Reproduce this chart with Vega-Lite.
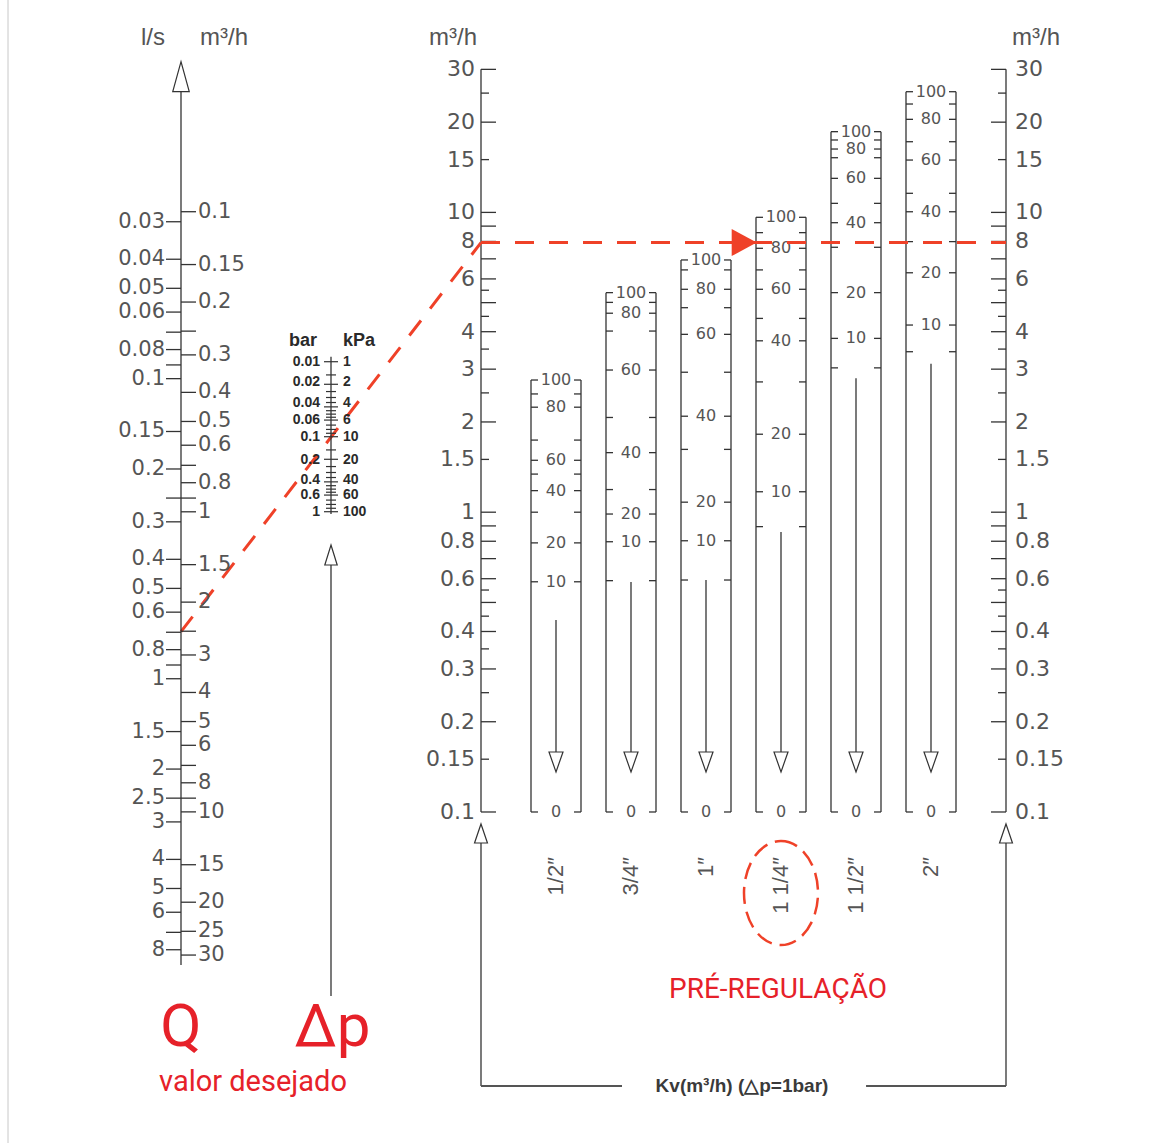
{
"$schema":"https://vega.github.io/schema/vega-lite/v6.json",
"width":1157,"height":1143,
"autosize":{"type":"none"},"padding":0,"background":"#ffffff",
"config":{"view":{"stroke":null}},
"datasets":{
"one":[{"n":1}],
"kvRange":[{"lo":0.1,"hi":30}],
"kvTicks":[
{"kv":30,"major":true,"lab":"30"},{"kv":25,"major":false,"lab":""},{"kv":20,"major":true,"lab":"20"},{"kv":15,"major":false,"lab":"15"},
{"kv":10,"major":true,"lab":"10"},{"kv":9,"major":true,"lab":""},{"kv":8,"major":true,"lab":"8"},{"kv":7,"major":true,"lab":""},
{"kv":6,"major":true,"lab":"6"},{"kv":5.5,"major":false,"lab":""},{"kv":5,"major":true,"lab":""},{"kv":4.5,"major":false,"lab":""},
{"kv":4,"major":true,"lab":"4"},{"kv":3.5,"major":false,"lab":""},{"kv":3,"major":true,"lab":"3"},{"kv":2.5,"major":false,"lab":""},
{"kv":2,"major":true,"lab":"2"},{"kv":1.5,"major":false,"lab":"1.5"},{"kv":1,"major":true,"lab":"1"},{"kv":0.9,"major":true,"lab":""},
{"kv":0.8,"major":true,"lab":"0.8"},{"kv":0.7,"major":true,"lab":""},{"kv":0.6,"major":true,"lab":"0.6"},{"kv":0.55,"major":false,"lab":""},
{"kv":0.5,"major":true,"lab":""},{"kv":0.45,"major":false,"lab":""},{"kv":0.4,"major":true,"lab":"0.4"},{"kv":0.35,"major":false,"lab":""},
{"kv":0.3,"major":true,"lab":"0.3"},{"kv":0.25,"major":false,"lab":""},{"kv":0.2,"major":true,"lab":"0.2"},{"kv":0.15,"major":false,"lab":"0.15"},
{"kv":0.1,"major":true,"lab":"0.1"}],
"qTicks":[
{"q":0.1,"lab":"0.1"},{"q":0.15,"lab":"0.15"},{"q":0.2,"lab":"0.2"},{"q":0.25,"lab":""},{"q":0.3,"lab":"0.3"},{"q":0.4,"lab":"0.4"},
{"q":0.5,"lab":"0.5"},{"q":0.6,"lab":"0.6"},{"q":0.7,"lab":""},{"q":0.8,"lab":"0.8"},{"q":0.9,"lab":""},{"q":1,"lab":"1"},
{"q":1.5,"lab":"1.5"},{"q":2,"lab":"2"},{"q":2.5,"lab":""},{"q":3,"lab":"3"},{"q":4,"lab":"4"},{"q":5,"lab":"5"},{"q":6,"lab":"6"},
{"q":7,"lab":""},{"q":8,"lab":"8"},{"q":9,"lab":""},{"q":10,"lab":"10"},{"q":15,"lab":"15"},{"q":20,"lab":"20"},{"q":25,"lab":"25"},{"q":30,"lab":"30"}],
"lsTicks":[
{"ls":0.03,"lab":"0.03"},{"ls":0.04,"lab":"0.04"},{"ls":0.05,"lab":"0.05"},{"ls":0.06,"lab":"0.06"},{"ls":0.07,"lab":""},{"ls":0.08,"lab":"0.08"},
{"ls":0.09,"lab":""},{"ls":0.1,"lab":"0.1"},{"ls":0.15,"lab":"0.15"},{"ls":0.2,"lab":"0.2"},{"ls":0.25,"lab":""},{"ls":0.3,"lab":"0.3"},
{"ls":0.4,"lab":"0.4"},{"ls":0.5,"lab":"0.5"},{"ls":0.6,"lab":"0.6"},{"ls":0.7,"lab":""},{"ls":0.8,"lab":"0.8"},{"ls":0.9,"lab":""},
{"ls":1,"lab":"1"},{"ls":1.5,"lab":"1.5"},{"ls":2,"lab":"2"},{"ls":2.5,"lab":"2.5"},{"ls":3,"lab":"3"},{"ls":4,"lab":"4"},{"ls":5,"lab":"5"},
{"ls":6,"lab":"6"},{"ls":7,"lab":""},{"ls":8,"lab":"8"}],
"dpTicks":[
{"kpa":1,"bar":"0.01","lab":"1","lpos":1},{"kpa":1.5,"bar":"","lab":""},{"kpa":2,"bar":"0.02","lab":"2","lpos":1.88},{"kpa":2.5,"bar":"","lab":""},
{"kpa":3,"bar":"","lab":""},{"kpa":3.5,"bar":"","lab":""},{"kpa":4,"bar":"0.04","lab":"4","lpos":3.52},{"kpa":4.5,"bar":"","lab":""},
{"kpa":5,"bar":"","lab":""},{"kpa":5.5,"bar":"","lab":""},{"kpa":6,"bar":"0.06","lab":"6","lpos":5.99},{"kpa":7,"bar":"","lab":""},
{"kpa":8,"bar":"","lab":""},{"kpa":9,"bar":"","lab":""},{"kpa":10,"bar":"0.1","lab":"10","lpos":10},{"kpa":15,"bar":"","lab":""},
{"kpa":20,"bar":"0.2","lab":"20","lpos":20.4},{"kpa":25,"bar":"","lab":""},{"kpa":30,"bar":"","lab":""},{"kpa":35,"bar":"","lab":""},
{"kpa":40,"bar":"0.4","lab":"40","lpos":37.9},{"kpa":45,"bar":"","lab":""},{"kpa":50,"bar":"","lab":""},{"kpa":55,"bar":"","lab":""},
{"kpa":60,"bar":"0.6","lab":"60","lpos":59.7},{"kpa":70,"bar":"","lab":""},{"kpa":80,"bar":"","lab":""},{"kpa":90,"bar":"","lab":""},
{"kpa":100,"bar":"1","lab":"100","lpos":100}],
"cols":[
{"col":"1/2″","u":2.5,"top":2.76,"at":0.437},
{"col":"3/4″","u":3,"top":5.4,"at":0.585},
{"col":"1″","u":3.5,"top":6.94,"at":0.594},
{"col":"1 1/4″","u":4,"top":9.63,"at":0.859},
{"col":"1 1/2″","u":4.5,"top":18.59,"at":2.8},
{"col":"2″","u":5,"top":25.27,"at":3.13}],
"colTicks":[
{"col":"1/2″","s":100,"kv":2.76,"lab":"100"},{"col":"1/2″","s":90,"kv":2.48,"lab":""},{"col":"1/2″","s":80,"kv":2.24,"lab":"80"},
{"col":"1/2″","s":70,"kv":1.74,"lab":""},{"col":"1/2″","s":60,"kv":1.49,"lab":"60"},{"col":"1/2″","s":50,"kv":1.34,"lab":""},
{"col":"1/2″","s":40,"kv":1.18,"lab":"40"},{"col":"1/2″","s":30,"kv":1.0,"lab":""},{"col":"1/2″","s":20,"kv":0.79,"lab":"20"},
{"col":"1/2″","s":10,"kv":0.586,"lab":"10"},{"col":"1/2″","s":0,"kv":0.1,"lab":"0"},
{"col":"3/4″","s":100,"kv":5.4,"lab":"100"},{"col":"3/4″","s":90,"kv":5.01,"lab":""},{"col":"3/4″","s":80,"kv":4.61,"lab":"80"},
{"col":"3/4″","s":70,"kv":4.02,"lab":""},{"col":"3/4″","s":60,"kv":2.98,"lab":"60"},{"col":"3/4″","s":50,"kv":2.07,"lab":""},
{"col":"3/4″","s":40,"kv":1.58,"lab":"40"},{"col":"3/4″","s":30,"kv":1.19,"lab":""},{"col":"3/4″","s":20,"kv":0.986,"lab":"20"},
{"col":"3/4″","s":10,"kv":0.797,"lab":"10"},{"col":"3/4″","s":5,"kv":0.591,"lab":""},{"col":"3/4″","s":0,"kv":0.1,"lab":"0"},
{"col":"1″","s":100,"kv":6.94,"lab":"100"},{"col":"1″","s":90,"kv":6.43,"lab":""},{"col":"1″","s":80,"kv":5.54,"lab":"80"},
{"col":"1″","s":70,"kv":4.81,"lab":""},{"col":"1″","s":60,"kv":3.92,"lab":"60"},{"col":"1″","s":50,"kv":2.93,"lab":""},
{"col":"1″","s":40,"kv":2.09,"lab":"40"},{"col":"1″","s":30,"kv":1.62,"lab":""},{"col":"1″","s":20,"kv":1.08,"lab":"20"},
{"col":"1″","s":10,"kv":0.803,"lab":"10"},{"col":"1″","s":5,"kv":0.594,"lab":""},{"col":"1″","s":0,"kv":0.1,"lab":"0"},
{"col":"1 1/4″","s":100,"kv":9.63,"lab":"100"},{"col":"1 1/4″","s":90,"kv":8.56,"lab":""},{"col":"1 1/4″","s":80,"kv":7.59,"lab":"80"},
{"col":"1 1/4″","s":70,"kv":6.43,"lab":""},{"col":"1 1/4″","s":60,"kv":5.54,"lab":"60"},{"col":"1 1/4″","s":50,"kv":4.43,"lab":""},
{"col":"1 1/4″","s":40,"kv":3.73,"lab":"40"},{"col":"1 1/4″","s":30,"kv":2.72,"lab":""},{"col":"1 1/4″","s":20,"kv":1.82,"lab":"20"},
{"col":"1 1/4″","s":10,"kv":1.17,"lab":"10"},{"col":"1 1/4″","s":5,"kv":0.895,"lab":""},{"col":"1 1/4″","s":0,"kv":0.1,"lab":"0"},
{"col":"1 1/2″","s":100,"kv":18.59,"lab":"100"},{"col":"1 1/2″","s":90,"kv":17.44,"lab":""},{"col":"1 1/2″","s":80,"kv":16.27,"lab":"80"},
{"col":"1 1/2″","s":70,"kv":15.22,"lab":""},{"col":"1 1/2″","s":60,"kv":12.99,"lab":"60"},{"col":"1 1/2″","s":50,"kv":10.72,"lab":""},
{"col":"1 1/2″","s":40,"kv":9.24,"lab":"40"},{"col":"1 1/2″","s":30,"kv":7.65,"lab":""},{"col":"1 1/2″","s":20,"kv":5.4,"lab":"20"},
{"col":"1 1/2″","s":10,"kv":3.8,"lab":"10"},{"col":"1 1/2″","s":5,"kv":3.03,"lab":""},{"col":"1 1/2″","s":0,"kv":0.1,"lab":"0"},
{"col":"2″","s":100,"kv":25.27,"lab":"100"},{"col":"2″","s":90,"kv":22.99,"lab":""},{"col":"2″","s":80,"kv":20.44,"lab":"80"},
{"col":"2″","s":70,"kv":17.21,"lab":""},{"col":"2″","s":60,"kv":14.95,"lab":"60"},{"col":"2″","s":50,"kv":11.58,"lab":""},
{"col":"2″","s":40,"kv":10.05,"lab":"40"},{"col":"2″","s":30,"kv":7.99,"lab":""},{"col":"2″","s":20,"kv":6.29,"lab":"20"},
{"col":"2″","s":10,"kv":4.21,"lab":"10"},{"col":"2″","s":5,"kv":3.43,"lab":""},{"col":"2″","s":0,"kv":0.1,"lab":"0"}],
"example":[{"Q":2.5,"dp":10,"kv":7.93,"kvAtQ":0.3994}]
},
"resolve":{"scale":{"y":"independent"}},
"layer":[
{"layer":[
{"data":{"name":"one"},"mark":{"type":"rule","color":"#c8c8c8","strokeWidth":1},"encoding":{"x":{"datum":-1.1533,"type":"quantitative","scale":{"domain":[-1.20667,6.50667],"nice":false,"zero":false},"axis":null},"y":{"datum":0.007868,"type":"quantitative","scale":{"type":"log","domain":[0.007868,51.11],"nice":false,"zero":false},"axis":null},"y2":{"datum":51.11}}},
{"data":{"name":"kvRange"},"mark":{"type":"rule","color":"#333333","strokeWidth":1.3},"encoding":{"x":{"datum":2,"type":"quantitative","scale":{"domain":[-1.20667,6.50667],"nice":false,"zero":false},"axis":null},"y":{"field":"lo","type":"quantitative","scale":{"type":"log","domain":[0.007868,51.11],"nice":false,"zero":false},"axis":null},"y2":{"field":"hi"}}},
{"data":{"name":"kvRange"},"mark":{"type":"rule","color":"#333333","strokeWidth":1.3},"encoding":{"x":{"datum":5.5,"type":"quantitative","scale":{"domain":[-1.20667,6.50667],"nice":false,"zero":false},"axis":null},"y":{"field":"lo","type":"quantitative","scale":{"type":"log","domain":[0.007868,51.11],"nice":false,"zero":false},"axis":null},"y2":{"field":"hi"}}},
{"data":{"name":"kvTicks"},"transform":[{"filter":"datum.major"}],"mark":{"type":"tick","orient":"horizontal","size":15,"thickness":1.3,"xOffset":7.5,"color":"#333333","opacity":1},"encoding":{"x":{"datum":2,"type":"quantitative","scale":{"domain":[-1.20667,6.50667],"nice":false,"zero":false},"axis":null},"y":{"field":"kv","type":"quantitative","scale":{"type":"log","domain":[0.007868,51.11],"nice":false,"zero":false},"axis":null}}},
{"data":{"name":"kvTicks"},"transform":[{"filter":"!datum.major"}],"mark":{"type":"tick","orient":"horizontal","size":8,"thickness":1.3,"xOffset":4,"color":"#333333","opacity":1},"encoding":{"x":{"datum":2,"type":"quantitative","scale":{"domain":[-1.20667,6.50667],"nice":false,"zero":false},"axis":null},"y":{"field":"kv","type":"quantitative","scale":{"type":"log","domain":[0.007868,51.11],"nice":false,"zero":false},"axis":null}}},
{"data":{"name":"kvTicks"},"transform":[{"filter":"datum.major"}],"mark":{"type":"tick","orient":"horizontal","size":15,"thickness":1.3,"xOffset":-7.5,"color":"#333333","opacity":1},"encoding":{"x":{"datum":5.5,"type":"quantitative","scale":{"domain":[-1.20667,6.50667],"nice":false,"zero":false},"axis":null},"y":{"field":"kv","type":"quantitative","scale":{"type":"log","domain":[0.007868,51.11],"nice":false,"zero":false},"axis":null}}},
{"data":{"name":"kvTicks"},"transform":[{"filter":"!datum.major"}],"mark":{"type":"tick","orient":"horizontal","size":8,"thickness":1.3,"xOffset":-4,"color":"#333333","opacity":1},"encoding":{"x":{"datum":5.5,"type":"quantitative","scale":{"domain":[-1.20667,6.50667],"nice":false,"zero":false},"axis":null},"y":{"field":"kv","type":"quantitative","scale":{"type":"log","domain":[0.007868,51.11],"nice":false,"zero":false},"axis":null}}},
{"data":{"name":"kvTicks"},"transform":[{"filter":"datum.lab != ''"}],"mark":{"type":"text","font":"DejaVu Sans","fontSize":22,"fill":"#555555","baseline":"middle","align":"right","dx":-6},"encoding":{"x":{"datum":2,"type":"quantitative","scale":{"domain":[-1.20667,6.50667],"nice":false,"zero":false},"axis":null},"y":{"field":"kv","type":"quantitative","scale":{"type":"log","domain":[0.007868,51.11],"nice":false,"zero":false},"axis":null},"text":{"field":"lab"}}},
{"data":{"name":"kvTicks"},"transform":[{"filter":"datum.lab != ''"}],"mark":{"type":"text","font":"DejaVu Sans","fontSize":22,"fill":"#555555","baseline":"middle","align":"left","dx":9},"encoding":{"x":{"datum":5.5,"type":"quantitative","scale":{"domain":[-1.20667,6.50667],"nice":false,"zero":false},"axis":null},"y":{"field":"kv","type":"quantitative","scale":{"type":"log","domain":[0.007868,51.11],"nice":false,"zero":false},"axis":null},"text":{"field":"lab"}}},
{"data":{"name":"cols"},"mark":{"type":"rule","color":"#333333","strokeWidth":1.3,"xOffset":-25},"encoding":{"x":{"field":"u","type":"quantitative","scale":{"domain":[-1.20667,6.50667],"nice":false,"zero":false},"axis":null},"y":{"field":"top","type":"quantitative","scale":{"type":"log","domain":[0.007868,51.11],"nice":false,"zero":false},"axis":null},"y2":{"datum":0.1}}},
{"data":{"name":"cols"},"mark":{"type":"rule","color":"#333333","strokeWidth":1.3,"xOffset":25},"encoding":{"x":{"field":"u","type":"quantitative","scale":{"domain":[-1.20667,6.50667],"nice":false,"zero":false},"axis":null},"y":{"field":"top","type":"quantitative","scale":{"type":"log","domain":[0.007868,51.11],"nice":false,"zero":false},"axis":null},"y2":{"datum":0.1}}},
{"data":{"name":"colTicks"},"transform":[{"lookup":"col","from":{"data":{"name":"cols"},"key":"col","fields":["u"]}}],"mark":{"type":"tick","orient":"horizontal","size":7,"thickness":1.3,"xOffset":-21.5,"color":"#333333","opacity":1},"encoding":{"x":{"field":"u","type":"quantitative","scale":{"domain":[-1.20667,6.50667],"nice":false,"zero":false},"axis":null},"y":{"field":"kv","type":"quantitative","scale":{"type":"log","domain":[0.007868,51.11],"nice":false,"zero":false},"axis":null}}},
{"data":{"name":"colTicks"},"transform":[{"lookup":"col","from":{"data":{"name":"cols"},"key":"col","fields":["u"]}}],"mark":{"type":"tick","orient":"horizontal","size":7,"thickness":1.3,"xOffset":21.5,"color":"#333333","opacity":1},"encoding":{"x":{"field":"u","type":"quantitative","scale":{"domain":[-1.20667,6.50667],"nice":false,"zero":false},"axis":null},"y":{"field":"kv","type":"quantitative","scale":{"type":"log","domain":[0.007868,51.11],"nice":false,"zero":false},"axis":null}}},
{"data":{"name":"colTicks"},"transform":[{"lookup":"col","from":{"data":{"name":"cols"},"key":"col","fields":["u"]}},{"filter":"datum.lab != ''"}],"mark":{"type":"text","font":"DejaVu Sans","fontSize":16,"fill":"#555555","baseline":"middle","align":"center"},"encoding":{"x":{"field":"u","type":"quantitative","scale":{"domain":[-1.20667,6.50667],"nice":false,"zero":false},"axis":null},"y":{"field":"kv","type":"quantitative","scale":{"type":"log","domain":[0.007868,51.11],"nice":false,"zero":false},"axis":null},"text":{"field":"lab"}}},
{"data":{"name":"cols"},"mark":{"type":"rule","color":"#333333","strokeWidth":1.3},"encoding":{"x":{"field":"u","type":"quantitative","scale":{"domain":[-1.20667,6.50667],"nice":false,"zero":false},"axis":null},"y":{"field":"at","type":"quantitative","scale":{"type":"log","domain":[0.007868,51.11],"nice":false,"zero":false},"axis":null},"y2":{"datum":0.15852}}},
{"data":{"name":"cols"},"mark":{"type":"point","shape":"M0,1L0.7,-1L-0.7,-1Z","size":400,"filled":true,"fill":"#ffffff","stroke":"#333333","strokeWidth":1.2,"opacity":1},"encoding":{"x":{"field":"u","type":"quantitative","scale":{"domain":[-1.20667,6.50667],"nice":false,"zero":false},"axis":null},"y":{"datum":0.14682,"type":"quantitative","scale":{"type":"log","domain":[0.007868,51.11],"nice":false,"zero":false},"axis":null}}},
{"data":{"name":"cols"},"mark":{"type":"text","font":"Liberation Sans","fontSize":22,"fill":"#555555","angle":270,"align":"right","baseline":"middle"},"encoding":{"x":{"field":"u","type":"quantitative","scale":{"domain":[-1.20667,6.50667],"nice":false,"zero":false},"axis":null},"y":{"datum":0.07076,"type":"quantitative","scale":{"type":"log","domain":[0.007868,51.11],"nice":false,"zero":false},"axis":null},"text":{"field":"col"}}},
{"data":{"name":"one"},"mark":{"type":"point","shape":"M0,-1L0.68,1L-0.68,1Z","size":361,"filled":true,"fill":"#ffffff","stroke":"#333333","strokeWidth":1.2,"opacity":1},"encoding":{"x":{"datum":2,"type":"quantitative","scale":{"domain":[-1.20667,6.50667],"nice":false,"zero":false},"axis":null},"y":{"datum":0.084785,"type":"quantitative","scale":{"type":"log","domain":[0.007868,51.11],"nice":false,"zero":false},"axis":null}}},
{"data":{"name":"one"},"mark":{"type":"point","shape":"M0,-1L0.68,1L-0.68,1Z","size":361,"filled":true,"fill":"#ffffff","stroke":"#333333","strokeWidth":1.2,"opacity":1},"encoding":{"x":{"datum":5.5,"type":"quantitative","scale":{"domain":[-1.20667,6.50667],"nice":false,"zero":false},"axis":null},"y":{"datum":0.084785,"type":"quantitative","scale":{"type":"log","domain":[0.007868,51.11],"nice":false,"zero":false},"axis":null}}},
{"data":{"name":"one"},"mark":{"type":"rule","color":"#333333","strokeWidth":1.3},"encoding":{"x":{"datum":2,"type":"quantitative","scale":{"domain":[-1.20667,6.50667],"nice":false,"zero":false},"axis":null},"y":{"datum":0.078782,"type":"quantitative","scale":{"type":"log","domain":[0.007868,51.11],"nice":false,"zero":false},"axis":null},"y2":{"datum":0.012191}}},
{"data":{"name":"one"},"mark":{"type":"rule","color":"#333333","strokeWidth":1.3},"encoding":{"x":{"datum":5.5,"type":"quantitative","scale":{"domain":[-1.20667,6.50667],"nice":false,"zero":false},"axis":null},"y":{"datum":0.078782,"type":"quantitative","scale":{"type":"log","domain":[0.007868,51.11],"nice":false,"zero":false},"axis":null},"y2":{"datum":0.012191}}},
{"data":{"name":"one"},"mark":{"type":"rule","color":"#555555","strokeWidth":2},"encoding":{"x":{"datum":2,"type":"quantitative","scale":{"domain":[-1.20667,6.50667],"nice":false,"zero":false},"axis":null},"x2":{"datum":2.94},"y":{"datum":0.012191,"type":"quantitative","scale":{"type":"log","domain":[0.007868,51.11],"nice":false,"zero":false},"axis":null}}},
{"data":{"name":"one"},"mark":{"type":"rule","color":"#555555","strokeWidth":2},"encoding":{"x":{"datum":4.567,"type":"quantitative","scale":{"domain":[-1.20667,6.50667],"nice":false,"zero":false},"axis":null},"x2":{"datum":5.5},"y":{"datum":0.012191,"type":"quantitative","scale":{"type":"log","domain":[0.007868,51.11],"nice":false,"zero":false},"axis":null}}},
{"data":{"values":[{"t":"Kv(m³/h)  (△p=1bar)"}]},"mark":{"type":"text","font":"Liberation Sans","fontSize":19,"fontWeight":"bold","fill":"#3a3a3a","baseline":"middle","align":"center"},"encoding":{"x":{"datum":3.74,"type":"quantitative","scale":{"domain":[-1.20667,6.50667],"nice":false,"zero":false},"axis":null},"y":{"datum":0.012191,"type":"quantitative","scale":{"type":"log","domain":[0.007868,51.11],"nice":false,"zero":false},"axis":null},"text":{"field":"t"}}},
{"data":{"name":"one"},"mark":{"type":"rule","color":"#333333","strokeWidth":1.3},"encoding":{"x":{"datum":1,"type":"quantitative","scale":{"domain":[-1.20667,6.50667],"nice":false,"zero":false},"axis":null},"y":{"datum":0.66649,"type":"quantitative","scale":{"type":"log","domain":[0.007868,51.11],"nice":false,"zero":false},"axis":null},"y2":{"datum":0.024333}}},
{"data":{"name":"one"},"mark":{"type":"point","shape":"M0,-1L0.62,1L-0.62,1Z","size":400,"filled":true,"fill":"#ffffff","stroke":"#333333","strokeWidth":1.2,"opacity":1},"encoding":{"x":{"datum":1,"type":"quantitative","scale":{"domain":[-1.20667,6.50667],"nice":false,"zero":false},"axis":null},"y":{"datum":0.71982,"type":"quantitative","scale":{"type":"log","domain":[0.007868,51.11],"nice":false,"zero":false},"axis":null}}},
{"data":{"name":"example"},"mark":{"type":"rule","color":"#ef4128","strokeWidth":3,"strokeDash":[19,15]},"encoding":{"x":{"datum":0,"type":"quantitative","scale":{"domain":[-1.20667,6.50667],"nice":false,"zero":false},"axis":null},"x2":{"datum":2},"y":{"field":"kvAtQ","type":"quantitative","scale":{"type":"log","domain":[0.007868,51.11],"nice":false,"zero":false},"axis":null},"y2":{"field":"kv"}}},
{"data":{"name":"example"},"mark":{"type":"rule","color":"#ef4128","strokeWidth":3,"strokeDash":[19,15]},"encoding":{"x":{"datum":2,"type":"quantitative","scale":{"domain":[-1.20667,6.50667],"nice":false,"zero":false},"axis":null},"x2":{"datum":5.5},"y":{"field":"kv","type":"quantitative","scale":{"type":"log","domain":[0.007868,51.11],"nice":false,"zero":false},"axis":null}}},
{"data":{"name":"example"},"mark":{"type":"point","shape":"M1,0L-1,-1.08L-1,1.08Z","size":625,"filled":true,"fill":"#ef4128","strokeWidth":0,"opacity":1},"encoding":{"x":{"datum":3.7547,"type":"quantitative","scale":{"domain":[-1.20667,6.50667],"nice":false,"zero":false},"axis":null},"y":{"field":"kv","type":"quantitative","scale":{"type":"log","domain":[0.007868,51.11],"nice":false,"zero":false},"axis":null}}},
{"data":{"name":"one"},"mark":{"type":"point","shape":"M0,-1C0.393,-1,0.7115,-0.5523,0.7115,0C0.7115,0.5523,0.393,1,0,1C-0.393,1,-0.7115,0.5523,-0.7115,0C-0.7115,-0.5523,-0.393,-1,0,-1Z","size":10816,"filled":false,"color":"#ef4128","strokeWidth":2.5,"strokeDash":[17,8],"opacity":1},"encoding":{"x":{"datum":4.0,"type":"quantitative","scale":{"domain":[-1.20667,6.50667],"nice":false,"zero":false},"axis":null},"y":{"datum":0.053666,"type":"quantitative","scale":{"type":"log","domain":[0.007868,51.11],"nice":false,"zero":false},"axis":null}}},
{"data":{"values":[{"t":"Q"}]},"mark":{"type":"text","font":"Roboto","fontSize":60,"fill":"#e62129","baseline":"alphabetic","align":"center"},"encoding":{"x":{"datum":0,"type":"quantitative","scale":{"domain":[-1.20667,6.50667],"nice":false,"zero":false},"axis":null},"y":{"datum":0.016574,"type":"quantitative","scale":{"type":"log","domain":[0.007868,51.11],"nice":false,"zero":false},"axis":null},"text":{"field":"t"}}},
{"data":{"values":[{"t":"Δp"}]},"mark":{"type":"text","font":"Roboto","fontSize":60,"fill":"#e62129","baseline":"alphabetic","align":"center"},"encoding":{"x":{"datum":1.01,"type":"quantitative","scale":{"domain":[-1.20667,6.50667],"nice":false,"zero":false},"axis":null},"y":{"datum":0.016574,"type":"quantitative","scale":{"type":"log","domain":[0.007868,51.11],"nice":false,"zero":false},"axis":null},"text":{"field":"t"}}},
{"data":{"values":[{"t":"valor desejado"}]},"mark":{"type":"text","font":"Roboto","fontSize":29,"fill":"#e62129","baseline":"alphabetic","align":"center"},"encoding":{"x":{"datum":0.48,"type":"quantitative","scale":{"domain":[-1.20667,6.50667],"nice":false,"zero":false},"axis":null},"y":{"datum":0.011731,"type":"quantitative","scale":{"type":"log","domain":[0.007868,51.11],"nice":false,"zero":false},"axis":null},"text":{"field":"t"}}},
{"data":{"values":[{"t":"PRÉ-REGULAÇÃO"}]},"mark":{"type":"text","font":"Roboto","fontSize":28,"fill":"#e62129","baseline":"alphabetic","align":"center"},"encoding":{"x":{"datum":3.98,"type":"quantitative","scale":{"domain":[-1.20667,6.50667],"nice":false,"zero":false},"axis":null},"y":{"datum":0.023962,"type":"quantitative","scale":{"type":"log","domain":[0.007868,51.11],"nice":false,"zero":false},"axis":null},"text":{"field":"t"}}},
{"data":{"values":[{"t":"l/s"}]},"mark":{"type":"text","font":"Liberation Sans","fontSize":24,"fill":"#555555","baseline":"middle","align":"right","dx":-16},"encoding":{"x":{"datum":0,"type":"quantitative","scale":{"domain":[-1.20667,6.50667],"nice":false,"zero":false},"axis":null},"y":{"datum":38.17,"type":"quantitative","scale":{"type":"log","domain":[0.007868,51.11],"nice":false,"zero":false},"axis":null},"text":{"field":"t"}}},
{"data":{"values":[{"t":"m³/h"}]},"mark":{"type":"text","font":"Liberation Sans","fontSize":24,"fill":"#555555","baseline":"middle","align":"left","dx":19},"encoding":{"x":{"datum":0,"type":"quantitative","scale":{"domain":[-1.20667,6.50667],"nice":false,"zero":false},"axis":null},"y":{"datum":38.17,"type":"quantitative","scale":{"type":"log","domain":[0.007868,51.11],"nice":false,"zero":false},"axis":null},"text":{"field":"t"}}},
{"data":{"values":[{"t":"m³/h"}]},"mark":{"type":"text","font":"Liberation Sans","fontSize":24,"fill":"#555555","baseline":"middle","align":"right","dx":-4},"encoding":{"x":{"datum":2,"type":"quantitative","scale":{"domain":[-1.20667,6.50667],"nice":false,"zero":false},"axis":null},"y":{"datum":38.17,"type":"quantitative","scale":{"type":"log","domain":[0.007868,51.11],"nice":false,"zero":false},"axis":null},"text":{"field":"t"}}},
{"data":{"values":[{"t":"m³/h"}]},"mark":{"type":"text","font":"Liberation Sans","fontSize":24,"fill":"#555555","baseline":"middle","align":"left","dx":6},"encoding":{"x":{"datum":5.5,"type":"quantitative","scale":{"domain":[-1.20667,6.50667],"nice":false,"zero":false},"axis":null},"y":{"datum":38.17,"type":"quantitative","scale":{"type":"log","domain":[0.007868,51.11],"nice":false,"zero":false},"axis":null},"text":{"field":"t"}}}
]},
{"layer":[
{"data":{"name":"one"},"mark":{"type":"rule","color":"#333333","strokeWidth":1.3},"encoding":{"x":{"datum":0,"type":"quantitative","scale":{"domain":[-1.20667,6.50667],"nice":false,"zero":false},"axis":null},"y":{"datum":0.03993,"type":"quantitative","scale":{"type":"log","domain":[0.019701,126.89],"reverse":true,"nice":false,"zero":false},"axis":null},"y2":{"datum":32.37}}},
{"data":{"name":"one"},"mark":{"type":"point","shape":"M0,-1L0.55,1L-0.55,1Z","size":900,"filled":true,"fill":"#ffffff","stroke":"#333333","strokeWidth":1.2,"opacity":1},"encoding":{"x":{"datum":0,"type":"quantitative","scale":{"domain":[-1.20667,6.50667],"nice":false,"zero":false},"axis":null},"y":{"datum":0.03549,"type":"quantitative","scale":{"type":"log","domain":[0.019701,126.89],"reverse":true,"nice":false,"zero":false},"axis":null}}},
{"data":{"name":"qTicks"},"mark":{"type":"tick","orient":"horizontal","size":15,"thickness":1.3,"xOffset":7.5,"color":"#333333","opacity":1},"encoding":{"x":{"datum":0,"type":"quantitative","scale":{"domain":[-1.20667,6.50667],"nice":false,"zero":false},"axis":null},"y":{"field":"q","type":"quantitative","scale":{"type":"log","domain":[0.019701,126.89],"reverse":true,"nice":false,"zero":false},"axis":null}}},
{"data":{"name":"qTicks"},"transform":[{"filter":"datum.lab != ''"}],"mark":{"type":"text","font":"DejaVu Sans","fontSize":21,"fill":"#555555","baseline":"middle","align":"left","dx":17},"encoding":{"x":{"datum":0,"type":"quantitative","scale":{"domain":[-1.20667,6.50667],"nice":false,"zero":false},"axis":null},"y":{"field":"q","type":"quantitative","scale":{"type":"log","domain":[0.019701,126.89],"reverse":true,"nice":false,"zero":false},"axis":null},"text":{"field":"lab"}}}
]},
{"layer":[
{"data":{"name":"lsTicks"},"mark":{"type":"tick","orient":"horizontal","size":15,"thickness":1.3,"xOffset":-7.5,"color":"#333333","opacity":1},"encoding":{"x":{"datum":0,"type":"quantitative","scale":{"domain":[-1.20667,6.50667],"nice":false,"zero":false},"axis":null},"y":{"field":"ls","type":"quantitative","scale":{"type":"log","domain":[0.0054725,35.247],"reverse":true,"nice":false,"zero":false},"axis":null}}},
{"data":{"name":"lsTicks"},"transform":[{"filter":"datum.lab != ''"}],"mark":{"type":"text","font":"DejaVu Sans","fontSize":21,"fill":"#555555","baseline":"middle","align":"right","dx":-16},"encoding":{"x":{"datum":0,"type":"quantitative","scale":{"domain":[-1.20667,6.50667],"nice":false,"zero":false},"axis":null},"y":{"field":"ls","type":"quantitative","scale":{"type":"log","domain":[0.0054725,35.247],"reverse":true,"nice":false,"zero":false},"axis":null},"text":{"field":"lab"}}}
]},
{"layer":[
{"data":{"name":"one"},"mark":{"type":"rule","color":"#333333","strokeWidth":1.3},"encoding":{"x":{"datum":1,"type":"quantitative","scale":{"domain":[-1.20667,6.50667],"nice":false,"zero":false},"axis":null},"y":{"datum":0.86,"type":"quantitative","scale":{"type":"log","domain":[1.5036e-5,2.614e10],"reverse":true,"nice":false,"zero":false},"axis":null},"y2":{"datum":107}}},
{"data":{"name":"dpTicks"},"transform":[{"filter":"datum.lab == ''"}],"mark":{"type":"tick","orient":"horizontal","size":10,"thickness":1.2,"color":"#333333","opacity":1},"encoding":{"x":{"datum":1,"type":"quantitative","scale":{"domain":[-1.20667,6.50667],"nice":false,"zero":false},"axis":null},"y":{"field":"kpa","type":"quantitative","scale":{"type":"log","domain":[1.5036e-5,2.614e10],"reverse":true,"nice":false,"zero":false},"axis":null}}},
{"data":{"name":"dpTicks"},"transform":[{"filter":"datum.lab != ''"}],"mark":{"type":"tick","orient":"horizontal","size":14,"thickness":1.2,"color":"#333333","opacity":1},"encoding":{"x":{"datum":1,"type":"quantitative","scale":{"domain":[-1.20667,6.50667],"nice":false,"zero":false},"axis":null},"y":{"field":"kpa","type":"quantitative","scale":{"type":"log","domain":[1.5036e-5,2.614e10],"reverse":true,"nice":false,"zero":false},"axis":null}}},
{"data":{"name":"dpTicks"},"transform":[{"filter":"datum.lab != ''"}],"mark":{"type":"text","font":"Liberation Sans","fontSize":14,"fontWeight":"bold","fill":"#2a2a2a","baseline":"middle","align":"right","dx":-11},"encoding":{"x":{"datum":1,"type":"quantitative","scale":{"domain":[-1.20667,6.50667],"nice":false,"zero":false},"axis":null},"y":{"field":"lpos","type":"quantitative","scale":{"type":"log","domain":[1.5036e-5,2.614e10],"reverse":true,"nice":false,"zero":false},"axis":null},"text":{"field":"bar"}}},
{"data":{"name":"dpTicks"},"transform":[{"filter":"datum.lab != ''"}],"mark":{"type":"text","font":"Liberation Sans","fontSize":14,"fontWeight":"bold","fill":"#2a2a2a","baseline":"middle","align":"left","dx":12},"encoding":{"x":{"datum":1,"type":"quantitative","scale":{"domain":[-1.20667,6.50667],"nice":false,"zero":false},"axis":null},"y":{"field":"lpos","type":"quantitative","scale":{"type":"log","domain":[1.5036e-5,2.614e10],"reverse":true,"nice":false,"zero":false},"axis":null},"text":{"field":"lab"}}},
{"data":{"values":[{"t":"bar"}]},"mark":{"type":"text","font":"Liberation Sans","fontSize":18,"fontWeight":"bold","fill":"#2a2a2a","baseline":"middle","align":"right","dx":-14},"encoding":{"x":{"datum":1,"type":"quantitative","scale":{"domain":[-1.20667,6.50667],"nice":false,"zero":false},"axis":null},"y":{"datum":0.53,"type":"quantitative","scale":{"type":"log","domain":[1.5036e-5,2.614e10],"reverse":true,"nice":false,"zero":false},"axis":null},"text":{"field":"t"}}},
{"data":{"values":[{"t":"kPa"}]},"mark":{"type":"text","font":"Liberation Sans","fontSize":18,"fontWeight":"bold","fill":"#2a2a2a","baseline":"middle","align":"left","dx":12},"encoding":{"x":{"datum":1,"type":"quantitative","scale":{"domain":[-1.20667,6.50667],"nice":false,"zero":false},"axis":null},"y":{"datum":0.53,"type":"quantitative","scale":{"type":"log","domain":[1.5036e-5,2.614e10],"reverse":true,"nice":false,"zero":false},"axis":null},"text":{"field":"t"}}}
]}
]
}
